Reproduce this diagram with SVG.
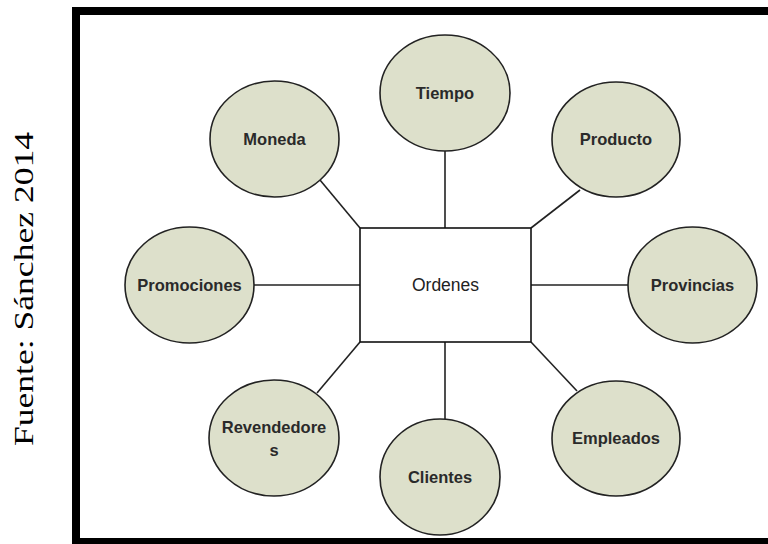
<svg xmlns="http://www.w3.org/2000/svg" width="768" height="544" viewBox="0 0 768 544">
  <style>
    .frame { fill: none; stroke: #000; stroke-width: 8; }
    .dim ellipse { fill: #dde0cb; stroke: #222; stroke-width: 1.6; }
    .dim text { font-family: "Liberation Sans", Arial, sans-serif; font-size: 16.5px; font-weight: bold; fill: #2a2a2a; text-anchor: middle; }
    .fact rect { fill: #fff; stroke: #111; stroke-width: 1.6; }
    .fact text { font-family: "Liberation Sans", Arial, sans-serif; font-size: 17.5px; fill: #222; text-anchor: middle; }
    .links line { stroke: #222; stroke-width: 1.6; }
    .source { font-family: "Liberation Serif", "Times New Roman", serif; font-size: 28px; fill: #000; text-anchor: middle; }
  </style>

  <rect width="768" height="544" fill="#fff"/>

  <!-- caption, rotated along the left side and stretched along its run -->
  <text class="source" transform="translate(33,289) rotate(-90) scale(1.27,1)">Fuente: Sánchez 2014</text>

  <!-- thick outer frame (open past the right edge) -->
  <rect class="frame" x="76" y="11" width="740" height="531"/>

  <!-- connectors from the fact table to each dimension -->
  <g id="connectors" class="links">
    <line x1="445" y1="151" x2="445" y2="228"/>
    <line x1="580" y1="190" x2="531" y2="228"/>
    <line x1="320" y1="180" x2="360" y2="228"/>
    <line x1="254" y1="285" x2="360" y2="285"/>
    <line x1="531" y1="285" x2="628" y2="285"/>
    <line x1="360" y1="342" x2="317" y2="393"/>
    <line x1="445" y1="342" x2="445" y2="419"/>
    <line x1="531" y1="342" x2="577" y2="391"/>
  </g>

  <g id="ordenes" class="fact">
    <rect x="360" y="228" width="171" height="114"/>
    <text x="445.5" y="291">Ordenes</text>
  </g>

  <g id="tiempo" class="dim">
    <ellipse cx="445" cy="93" rx="65" ry="58"/>
    <text x="445" y="99">Tiempo</text>
  </g>

  <g id="moneda" class="dim">
    <ellipse cx="274.5" cy="139" rx="64.5" ry="58"/>
    <text x="274.5" y="145">Moneda</text>
  </g>

  <g id="producto" class="dim">
    <ellipse cx="616" cy="139.5" rx="64" ry="57.5"/>
    <text x="616" y="145">Producto</text>
  </g>

  <g id="promociones" class="dim">
    <ellipse cx="189.5" cy="285" rx="64.5" ry="58"/>
    <text x="189.5" y="291">Promociones</text>
  </g>

  <g id="provincias" class="dim">
    <ellipse cx="692.5" cy="285" rx="64.5" ry="58"/>
    <text x="692.5" y="291">Provincias</text>
  </g>

  <g id="revendedores" class="dim">
    <ellipse cx="274" cy="438" rx="65" ry="58"/>
    <text x="274" y="433">Revendedore</text>
    <text x="274" y="456">s</text>
  </g>

  <g id="clientes" class="dim">
    <ellipse cx="440" cy="477" rx="60" ry="58"/>
    <text x="440" y="483">Clientes</text>
  </g>

  <g id="empleados" class="dim">
    <ellipse cx="616" cy="438.5" rx="64" ry="57.5"/>
    <text x="616" y="444">Empleados</text>
  </g>
</svg>
